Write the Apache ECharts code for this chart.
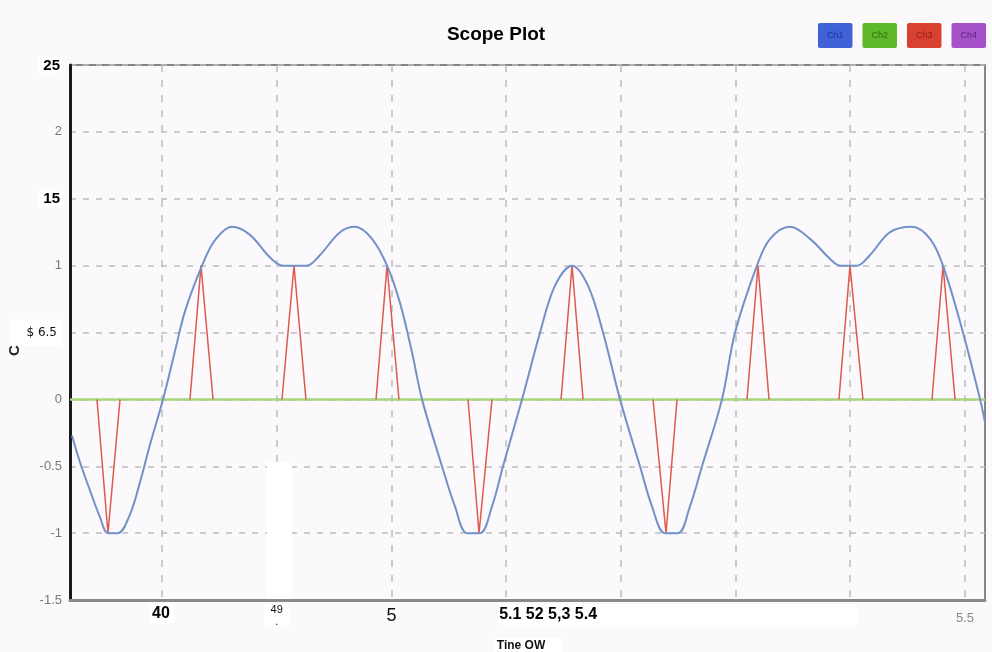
<!DOCTYPE html>
<html><head><meta charset="utf-8">
<script src="https://cdn.jsdelivr.net/npm/echarts@6/dist/echarts.min.js"></script>
<style>html,body{margin:0;padding:0;background:#fcf9fc}#c{width:992px;height:652px}</style>
</head><body><div id="c"></div>
<script>
const channels = ['Ch1', 'Ch2', 'Ch3', 'Ch4'];
const channelColors = ['#3f62d8', '#5fb827', '#d8402f', '#a552c8'];
const channelTextColors = ['#1c3199', '#2f6d10', '#8c1e14', '#5b2384'];

const ch1Time = [4.7215,4.7285,4.7372,4.7459,4.7529,4.7616,4.7721,4.7808,4.7895,4.8009,4.8113,4.8201,4.8349,4.8462,4.8610,4.8767,4.8942,4.9055,4.9264,4.9378,4.9552,4.9683,4.9831,4.9962,5.0075,5.0180,5.0267,5.0441,5.0554,5.0659,5.0772,5.0877,5.0973,5.1139,5.1296,5.1426,5.1575,5.1714,5.1845,5.1993,5.2167,5.2272,5.2385,5.2499,5.2603,5.2708,5.2882,5.2996,5.3187,5.3301,5.3475,5.3650,5.3824,5.3911,5.4059,5.4173,5.4347,5.4539,5.4696,5.4809,5.4983,5.5132,5.5175];
const ch1Volts = [-0.27,-0.47,-0.68,-0.88,-1,-1,-0.86,-0.62,-0.34,0,0.36,0.66,1.0,1.19,1.29,1.23,1.06,1.0,1.0,1.08,1.25,1.29,1.2,1.0,0.72,0.35,0,-0.5,-0.8,-1,-1,-0.8,-0.5,0,0.5,0.85,1.0,0.85,0.5,0,-0.5,-0.8,-1,-1,-0.8,-0.5,0,0.5,1.0,1.2,1.29,1.2,1.05,1.0,1.0,1.08,1.25,1.29,1.2,1.0,0.5,0,-0.17];

const ch2Time = [4.7198, 5.5175];
const ch2Volts = [0, 0];

const ch3PulseStart = [4.7433,4.8244,4.9046,4.9866,5.0668,5.1479,5.2281,5.3100,5.3902,5.4713];
const ch3PulsePeak  = [4.7529,4.8340,4.9151,4.9962,5.0764,5.1575,5.2394,5.3196,5.3998,5.4809];
const ch3PulseEnd   = [4.7634,4.8445,4.9255,5.0066,5.0877,5.1671,5.2490,5.3292,5.4111,5.4914];
const ch3PulseLevel = [-1,1,1,1,-1,1,-1,1,1,1];

const ch4Time = [];
const ch4Volts = [];

const xTickValues = [4.8, 4.9, 5.0, 5.1, 5.2, 5.3, 5.4, 5.5];
const xTickLabels = ['40', '49\n.', '5', '5.1 52 5,3 5.4', '', '', '', '5.5'];
const yTickValues = [-1.5, -1, -0.5, 0, 0.5, 1, 1.5, 2, 2.5];
const yTickLabels = ['-1.5', '-1', '-0.5', '0', '$ 6.5', '1', '15', '2', '25'];

const titleText = 'Scope Plot';
const xName = 'Tine OW';
const yName = 'C';

// ---- build ----
const pair = (xs, ys) => xs.map((x, i) => [x, ys[i]]);
const ch3Data = [];
ch3PulseStart.forEach((s, i) => {
  ch3Data.push([s, 0], [ch3PulsePeak[i], ch3PulseLevel[i]], [ch3PulseEnd[i], 0]);
  if (i < ch3PulseStart.length - 1) ch3Data.push(null);
});

const xStyleFor = {'40': 'b', '49\n.': 's', '5': 'n', '5.1 52 5,3 5.4': 'w', '5.5': 'g'};
const yStyleFor = {'25': 'b', '15': 'b', '$ 6.5': 'box'};

function findLabel(vals, labels, v) {
  for (let i = 0; i < vals.length; i++) if (Math.abs(vals[i] - v) < 1e-6) return labels[i];
  return '';
}

const chart = echarts.init(document.getElementById('c'));
chart.setOption({
  backgroundColor: '#fcf9fc',
  animation: false,
  title: {
    text: titleText, left: 'center', top: 20,
    textStyle: {fontFamily: 'Liberation Sans', fontSize: 19, fontWeight: 'bold', color: '#000',
      backgroundColor: '#fff', padding: [2, 10, 2, 3]}
  },
  legend: {
    right: 6, top: 23, padding: 0, itemWidth: 0, itemHeight: 0, itemGap: 5, icon: 'rect',
    selectedMode: false,
    data: channels.map((c, i) => ({
      name: c,
      textStyle: {backgroundColor: channelColors[i], color: channelTextColors[i], fontSize: 9,
        fontFamily: 'Liberation Sans', padding: [8, 9, 8, 9], borderRadius: 2}
    }))
  },
  grid: {left: 70, right: 7, top: 65, bottom: 52, outerBoundsMode: 'none', containLabel: false,
    show: true, borderColor: '#858585', borderWidth: 2, backgroundColor: 'transparent'},
  graphic: [{type: 'rect', z: 1, shape: {x: 267, y: 462, width: 25, height: 137}, style: {fill: '#fff'}}],
  xAxis: {
    type: 'value', min: 4.7198, max: 5.5175,
    name: xName, nameLocation: 'middle', nameGap: 38, nameMoveOverlap: false,
    nameTextStyle: {fontFamily: 'Liberation Sans', fontWeight: 'bold', fontSize: 12, color: '#111',
      letterSpacing: 1.5, backgroundColor: '#fff', padding: [2, 16, 2, 3]},
    axisLine: {show: true, onZero: false, lineStyle: {color: '#8a8a8a', width: 3}},
    axisTick: {show: false, customValues: xTickValues},
    splitLine: {show: true, lineStyle: {color: '#bdbdbd', width: 1.5, type: [7, 8]}},
    axisLabel: {
      customValues: xTickValues, margin: 4,
      formatter: v => {
        const t = findLabel(xTickValues, xTickLabels, v);
        if (!t) return '';
        const st = xStyleFor[t] || 'n';
        if (st === 's') return t.split('\n').map(p => '{s|' + p + '}').join('\n');
        if (st === 'w') return '{sp| }{w|' + t + '}{wp| }';
        return '{' + st + '|' + t + '}';
      },
      rich: {
        b: {fontFamily: 'Liberation Sans', fontWeight: 'bold', fontSize: 16, color: '#000', backgroundColor: '#fff', padding: [2, 4, 1, 2]},
        s: {fontFamily: 'Liberation Sans', fontSize: 11, color: '#111', backgroundColor: '#fff', width: 25, align: 'center', lineHeight: 12},
        n: {fontFamily: 'Liberation Sans', fontSize: 18, color: '#111', padding: [3, 0, 0, 0]},
        g: {fontFamily: 'Liberation Sans', fontSize: 13, color: '#8a8a8a', padding: [8, 0, 0, 0]},
        sp: {width: 344},
        w: {fontFamily: 'Liberation Sans', fontWeight: 'bold', fontSize: 16, color: '#000', backgroundColor: '#fff', padding: [3, 0, 2, 0]},
        wp: {width: 260, backgroundColor: '#fff', fontSize: 16, padding: [3, 0, 2, 0]}
      }
    }
  },
  yAxis: {
    type: 'value', min: -1.5, max: 2.5, interval: 0.5,
    name: yName, nameLocation: 'middle', nameGap: 48, nameRotate: 90, nameMoveOverlap: false,
    nameTextStyle: {fontFamily: 'Liberation Sans', fontWeight: 'bold', fontSize: 15, color: '#222', padding: [0, 36, 0, 0]},
    axisLine: {show: true, onZero: false, lineStyle: {color: '#1a1a1a', width: 3}},
    axisTick: {show: false},
    splitLine: {show: true, lineStyle: {color: '#bdbdbd', width: 1.5, type: [6, 7]}},
    axisLabel: {
      margin: 8,
      formatter: v => {
        const t = findLabel(yTickValues, yTickLabels, v);
        const st = yStyleFor[t] || 'g';
        return '{' + st + '|' + t + '}';
      },
      rich: {
        b: {fontFamily: 'Liberation Sans', fontWeight: 'bold', fontSize: 15, color: '#000', backgroundColor: '#fff', padding: [1, 2, 0, 6], letterSpacing: -2},
        g: {fontFamily: 'Liberation Sans', fontSize: 13, color: '#7a7a7a'},
        box: {fontFamily: 'DejaVu Sans', fontSize: 12, color: '#111', backgroundColor: '#fff', padding: [7, 5, 7, 16]}
      }
    }
  },
  series: [
    {name: 'Ch1', type: 'line', data: pair(ch1Time, ch1Volts), smooth: 0.35, showSymbol: false, z: 4,
      lineStyle: {color: '#7391c9', width: 2}, itemStyle: {color: channelColors[0]}},
    {name: 'Ch2', type: 'line', data: pair(ch2Time, ch2Volts), showSymbol: false, z: 3,
      lineStyle: {color: '#a9d67c', width: 2.5}, itemStyle: {color: channelColors[1]}},
    {name: 'Ch3', type: 'line', data: ch3Data, connectNulls: false, showSymbol: false, z: 3,
      lineStyle: {color: '#de5a4e', width: 1.5}, itemStyle: {color: channelColors[2]}},
    {name: 'Ch4', type: 'line', data: pair(ch4Time, ch4Volts), showSymbol: false,
      lineStyle: {color: channelColors[3], width: 1.5}, itemStyle: {color: channelColors[3]}}
  ]
});
</script></body></html>
